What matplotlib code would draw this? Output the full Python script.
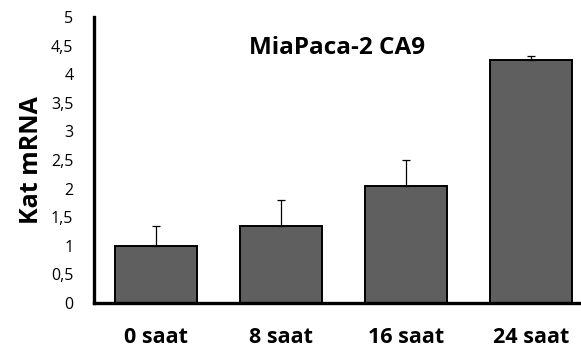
import matplotlib
matplotlib.use("Agg")
import matplotlib.pyplot as plt
from matplotlib.ticker import FixedLocator, FuncFormatter

categories = ["0 saat", "8 saat", "16 saat", "24 saat"]
values = [1.0, 1.35, 2.05, 4.25]
errors = [0.35, 0.45, 0.45, 0.07]
yticks = [0, 0.5, 1, 1.5, 2, 2.5, 3, 3.5, 4, 4.5, 5]

plt.rcParams['font.family'] = ['Open Sans', 'DejaVu Sans']

W, H = 581, 361
fig = plt.figure(figsize=(W / 100, H / 100), dpi=100)
left, right, bottom, top = 93.5, 593.5, 303, 17
ax = fig.add_axes([left / W, (H - bottom) / H, (right - left) / W, (bottom - top) / H])

x = list(range(len(categories)))
ax.bar(x, values, width=0.66, color="#5f5f5f", edgecolor="black", linewidth=1.4, zorder=2)
ax.errorbar(x, values, yerr=[[0] * len(errors), errors], fmt="none", ecolor="black",
            elinewidth=0.9, capsize=3, capthick=0.9, zorder=3)

ax.set_xlim(-0.5, 3.5)
ax.set_ylim(0, 5)
ax.yaxis.set_major_locator(FixedLocator(yticks))
ax.yaxis.set_major_formatter(FuncFormatter(lambda v, p: ("%g" % v).replace(".", ",")))
ax.set_xticks(x)
ax.set_xticklabels(categories, fontsize=15.5, fontweight="bold")
ax.tick_params(axis="y", length=0, pad=14.5, labelsize=11.5)
ax.tick_params(axis="x", length=0, pad=17)

for s in ["top", "right"]:
    ax.spines[s].set_visible(False)
ax.spines["left"].set_linewidth(2.4)
ax.spines["bottom"].set_linewidth(2.4)

ax.set_ylabel("Kat mRNA", fontsize=18, fontweight="bold", labelpad=5)
ax.text(1.448, 4.353, "MiaPaca-2 CA9", fontsize=17.5, fontweight="bold", ha="center", va="baseline")

fig.savefig("out.png", dpi=100)
